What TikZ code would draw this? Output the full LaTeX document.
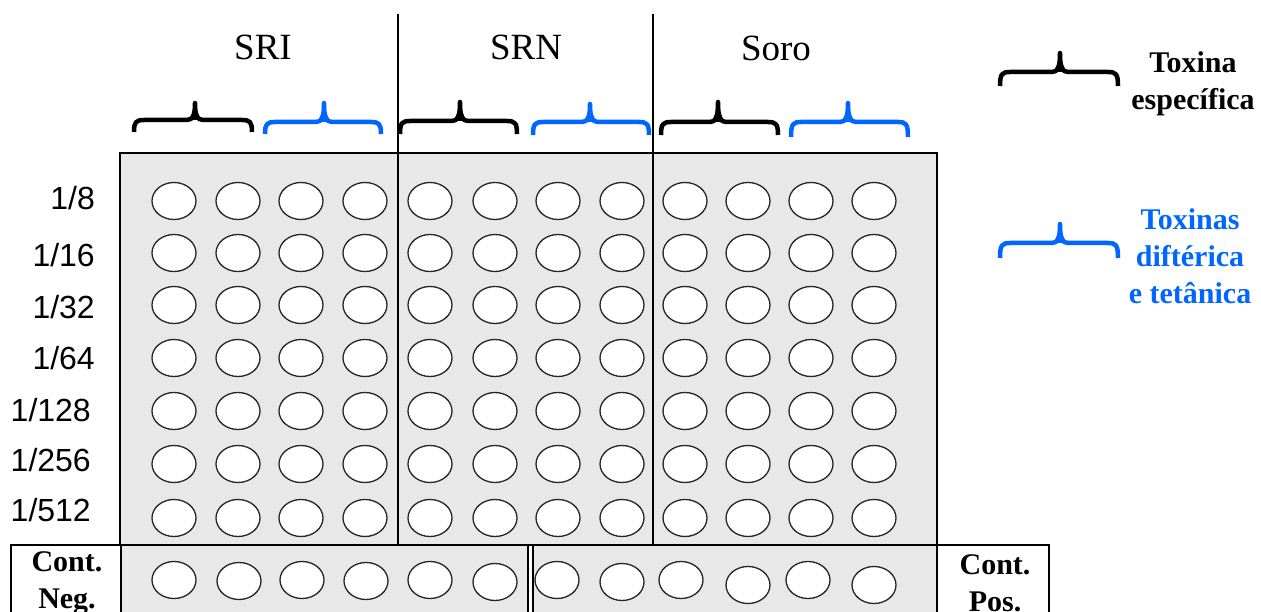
\documentclass[tikz,border=0pt]{standalone}
\usepackage{fontspec}
\setmainfont{Liberation Serif}
\newfontfamily\dilsans{Liberation Sans}
\usetikzlibrary{shapes.geometric}

\definecolor{toxblue}{RGB}{0,102,255}
\definecolor{plategray}{RGB}{232,232,232}

% curly brace: colour, left x, right x, tip x, tip y, bar y, end y
\newcommand\drawbrace[7]{%
  \draw[#1, line width=4.5pt, line join=round]
    (#2,#7) .. controls (#2,#6+2) and (#2+2,#6) .. (#2+10,#6)
    -- (#4-8,#6) .. controls (#4-2,#6) and (#4,#6-5) .. (#4,#5)
    .. controls (#4,#6-5) and (#4+2,#6) .. (#4+8,#6)
    -- (#3-10,#6) .. controls (#3-2,#6) and (#3,#6+2) .. (#3,#7);
  \fill[#1] (#4-6,#6) -- (#4,#5+4) -- (#4+6,#6) -- cycle;}

\begin{document}
\begin{tikzpicture}[x=1pt,y=-1pt,
  well/.style={ellipse, draw=black!85, line width=1.3pt, fill=white,
    minimum width=44pt, minimum height=37pt, inner sep=0pt},
  frame/.style={draw=black, line width=1.4pt},
  divider/.style={draw=black, line width=1.2pt},
  dil/.style={font=\dilsans\fontsize{32}{36}\selectfont, anchor=east, inner sep=0pt},
  group/.style={font=\fontsize{37}{42}\selectfont, inner sep=0pt},
  legend/.style={font=\bfseries\fontsize{30}{37}\selectfont, align=center, inner sep=0pt},
]
\useasboundingbox (0,0) rectangle (1261,612);
\clip (0,0) rectangle (1261,612);

% plate body with the three serum groups
\fill[plategray] (120,153) rectangle (937,545);
\draw[frame] (120,153) rectangle (937,545);
\draw[divider] (398,14) -- (398,545);
\draw[divider] (653,14) -- (653,545);

% group titles
\node[group] (sri) at (263,47) {SRI};
\node[group] (srn) at (526,47) {SRN};
\node[group] (soro) at (776,48) {Soro};

% braces over the columns
\drawbrace{black}{134}{252}{195}{103}{120}{132}
\drawbrace{toxblue}{265}{381}{324}{103}{122}{134}
\drawbrace{black}{400}{517}{460}{102}{121}{134}
\drawbrace{toxblue}{533}{649}{590}{104}{122}{135}
\drawbrace{black}{661}{778}{718}{102}{122}{135}
\drawbrace{toxblue}{791}{908}{848}{103}{122}{137}

% legend
\drawbrace{black}{1000}{1118}{1060}{53}{72}{86}
\drawbrace{toxblue}{1000}{1118}{1060}{224}{243}{258}
\node[legend] (legspec) at (1193,84) {Toxina\\específica};
\node[legend, text=toxblue] (legdt) at (1190,256) {Toxinas\\diftérica\\e tetânica};

% dilution labels
\node[dil] (d1) at (95,198) {1/8};
\node[dil] (d2) at (95,255) {1/16};
\node[dil] (d3) at (95,307) {1/32};
\node[dil] (d4) at (95,358) {1/64};
\node[dil] (d5) at (91,410) {1/128};
\node[dil] (d6) at (91,460) {1/256};
\node[dil] (d7) at (91,510) {1/512};

% wells of the dilution rows
\foreach \r/\y in {1/201,2/253,3/305,4/358,5/411,6/464,7/518}{
  \foreach \c/\x in {1/174,2/238,3/301,4/365,5/430,6/495,7/558,8/622,9/685,10/748,11/811,12/874}{
    \node[well] (w-\r-\c) at (\x,\y) {};
  }
}

% control row
\fill[plategray] (121,545) rectangle (528,620);
\draw[frame] (11,545) rectangle (528,620);
\draw[frame] (121,545) -- (121,620);
\fill[plategray] (533,545) rectangle (937,620);
\draw[frame] (533,545) rectangle (1049,620);
\draw[frame] (937,545) -- (937,620);

\node[legend] (neg) at (67,583) {Cont.\\Neg.};
\node[legend] (pos) at (995,583) {Cont.\\Pos.};

\foreach \c/\x/\y in {1/174/580,2/239/581,3/302/580,4/366/581,5/430/580,6/495/582}{
  \node[well] (n-\c) at (\x,\y) {};
}
\foreach \c/\x/\y in {1/557/580,2/622/582,3/681/580,4/748/585,5/808/580,6/874/585}{
  \node[well] (p-\c) at (\x,\y) {};
}
\end{tikzpicture}
\end{document}
